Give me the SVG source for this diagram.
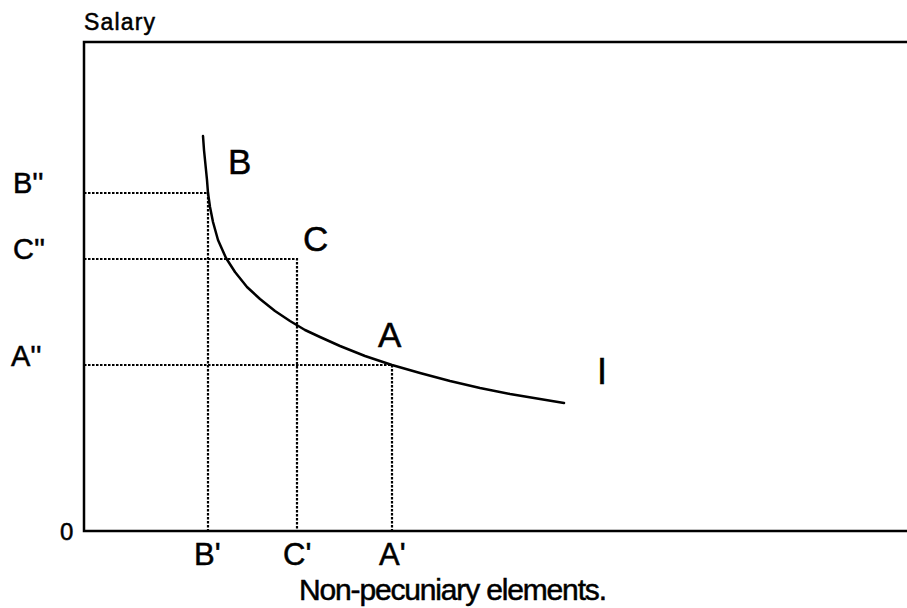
<svg xmlns="http://www.w3.org/2000/svg" width="907" height="608" viewBox="0 0 907 608">
<style>
.t{font-family:"Liberation Sans","DejaVu Sans",sans-serif;fill:#000;stroke:#000;stroke-width:0.5}
.ax{stroke:#000;stroke-width:2.5;fill:none}
.dot{stroke:#000;stroke-width:2.2;stroke-dasharray:2.5 1.5;fill:none}
.cv{stroke:#000;stroke-width:2.5;fill:none;stroke-linejoin:round;stroke-linecap:round}
</style>
<rect width="907" height="608" fill="#fff"/>
<g id="axes">
<path class="ax" d="M907,42 H84 V531 H907"/>
<text class="t" x="84" y="30" font-size="23" textLength="71">Salary</text>
<text class="t" x="60" y="540" font-size="24">0</text>
<text class="t" x="299" y="600" font-size="30" textLength="308">Non-pecuniary elements.</text>
</g>
<g id="guides">
<path class="dot" d="M84,193 H208 V531"/>
<path class="dot" d="M84,259 H297 V531"/>
<path class="dot" d="M84,365 H392 V531"/>
</g>
<g id="curve">
<polyline class="cv" points="203,136 204,150 205.5,165 207,180 208,193 210,207 213,222 218,240 226,258 235,272 247,287 260,299 275,311 290,321 305,330 320,337 340,346 365,356 392,365 420,373 450,381 480,388 510,394 540,399 564,403"/>
<text class="t" x="597" y="384" font-size="36">I</text>
</g>
<g id="pointB">
<text class="t" x="228" y="174" font-size="35">B</text>
<text class="t" x="13" y="193" font-size="29">B''</text>
<text class="t" x="194" y="565" font-size="31">B'</text>
</g>
<g id="pointC">
<text class="t" x="303" y="251" font-size="35">C</text>
<text class="t" x="13" y="259" font-size="29">C''</text>
<text class="t" x="283" y="565" font-size="31">C'</text>
</g>
<g id="pointA">
<text class="t" x="378" y="347" font-size="35">A</text>
<text class="t" x="11" y="366" font-size="29">A''</text>
<text class="t" x="379" y="565" font-size="31">A'</text>
</g>
</svg>
